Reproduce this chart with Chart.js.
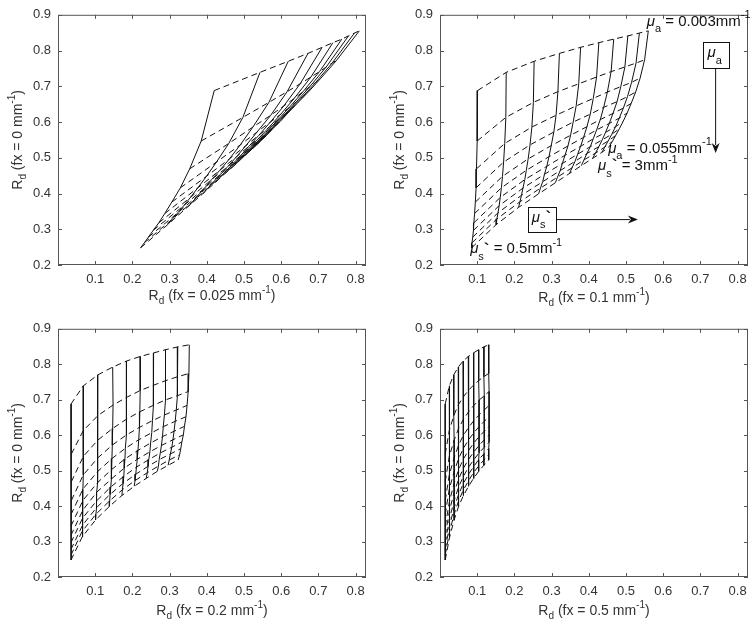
<!DOCTYPE html>
<html>
<head>
<meta charset="utf-8">
<script src="https://cdn.jsdelivr.net/npm/chart.js@4.4.1/dist/chart.umd.min.js"></script>
<style>
  html, body { margin: 0; padding: 0; background: #fff; }
  #wrap { position: relative; width: 755px; height: 629px; overflow: hidden; }
  canvas { position: absolute; }
</style>
</head>
<body>
<div id="wrap">
  <canvas id="c1" width="377" height="314" style="left:0px;top:0px"></canvas>
  <canvas id="c2" width="373" height="314" style="left:382px;top:0px"></canvas>
  <canvas id="c3" width="377" height="315" style="left:0px;top:314px"></canvas>
  <canvas id="c4" width="373" height="315" style="left:382px;top:314px"></canvas>
</div>
<script>
// absorption (dashed lines) and reduced scattering (solid lines), mm^-1
const muA = [0.003, 0.0082, 0.0134, 0.0186, 0.0238, 0.029, 0.0342, 0.0394, 0.0446, 0.0498, 0.055];
const muS = [0.5, 0.78, 1.06, 1.33, 1.61, 1.89, 2.17, 2.44, 2.72, 3.0];

// Rd at fx = 0 (y of every panel), rows = muA, columns = muS
const rdFx0 = [
  [0.688, 0.739, 0.770, 0.792, 0.809, 0.822, 0.832, 0.841, 0.849, 0.855],
  [0.547, 0.613, 0.655, 0.685, 0.707, 0.726, 0.741, 0.754, 0.765, 0.774],
  [0.469, 0.540, 0.586, 0.619, 0.645, 0.666, 0.684, 0.699, 0.711, 0.723],
  [0.416, 0.488, 0.536, 0.572, 0.600, 0.622, 0.641, 0.657, 0.671, 0.684],
  [0.376, 0.448, 0.497, 0.534, 0.563, 0.587, 0.607, 0.624, 0.639, 0.652],
  [0.344, 0.416, 0.465, 0.503, 0.533, 0.557, 0.578, 0.596, 0.611, 0.625],
  [0.318, 0.389, 0.439, 0.476, 0.507, 0.532, 0.553, 0.571, 0.587, 0.601],
  [0.297, 0.366, 0.415, 0.454, 0.484, 0.510, 0.531, 0.550, 0.566, 0.581],
  [0.278, 0.346, 0.395, 0.433, 0.464, 0.490, 0.512, 0.531, 0.547, 0.562],
  [0.262, 0.329, 0.377, 0.415, 0.446, 0.472, 0.494, 0.513, 0.530, 0.545],
  [0.248, 0.313, 0.361, 0.399, 0.430, 0.456, 0.478, 0.498, 0.515, 0.530]
];

// Rd at fx = 0.025 mm^-1
const rdFx0025 = [
  [0.420, 0.543, 0.619, 0.672, 0.710, 0.739, 0.763, 0.781, 0.797, 0.810],
  [0.385, 0.497, 0.567, 0.616, 0.651, 0.680, 0.703, 0.721, 0.737, 0.750],
  [0.354, 0.459, 0.524, 0.572, 0.607, 0.635, 0.658, 0.677, 0.693, 0.707],
  [0.329, 0.426, 0.490, 0.535, 0.571, 0.599, 0.622, 0.641, 0.658, 0.673],
  [0.306, 0.399, 0.461, 0.505, 0.540, 0.569, 0.592, 0.612, 0.628, 0.643],
  [0.287, 0.376, 0.435, 0.480, 0.514, 0.542, 0.566, 0.586, 0.603, 0.618],
  [0.271, 0.356, 0.413, 0.457, 0.492, 0.519, 0.543, 0.564, 0.581, 0.597],
  [0.256, 0.338, 0.394, 0.437, 0.471, 0.499, 0.523, 0.543, 0.562, 0.577],
  [0.243, 0.322, 0.377, 0.419, 0.453, 0.481, 0.505, 0.525, 0.543, 0.560],
  [0.232, 0.308, 0.362, 0.403, 0.436, 0.465, 0.488, 0.509, 0.527, 0.543],
  [0.222, 0.295, 0.347, 0.389, 0.422, 0.449, 0.474, 0.494, 0.512, 0.528]
];

// Rd at fx = 0.1 mm^-1
const rdFx01 = [
  [0.101, 0.178, 0.253, 0.321, 0.378, 0.427, 0.467, 0.505, 0.536, 0.560],
  [0.100, 0.177, 0.251, 0.317, 0.373, 0.421, 0.460, 0.497, 0.527, 0.550],
  [0.098, 0.174, 0.247, 0.312, 0.366, 0.412, 0.450, 0.486, 0.515, 0.538],
  [0.097, 0.171, 0.242, 0.306, 0.358, 0.404, 0.440, 0.476, 0.504, 0.526],
  [0.095, 0.168, 0.237, 0.299, 0.351, 0.395, 0.431, 0.465, 0.493, 0.514],
  [0.093, 0.165, 0.232, 0.293, 0.344, 0.386, 0.421, 0.455, 0.482, 0.503],
  [0.091, 0.162, 0.228, 0.287, 0.336, 0.378, 0.412, 0.445, 0.472, 0.492],
  [0.090, 0.159, 0.223, 0.281, 0.329, 0.370, 0.404, 0.436, 0.462, 0.482],
  [0.088, 0.156, 0.219, 0.276, 0.323, 0.363, 0.395, 0.427, 0.452, 0.472],
  [0.086, 0.153, 0.215, 0.270, 0.316, 0.355, 0.387, 0.418, 0.443, 0.463],
  [0.085, 0.151, 0.211, 0.265, 0.310, 0.348, 0.380, 0.410, 0.435, 0.454]
];

// Rd at fx = 0.2 mm^-1
const rdFx02 = [
  [0.035, 0.068, 0.107, 0.147, 0.184, 0.221, 0.257, 0.289, 0.322, 0.353],
  [0.036, 0.068, 0.107, 0.148, 0.185, 0.221, 0.257, 0.290, 0.322, 0.352],
  [0.036, 0.068, 0.107, 0.147, 0.184, 0.220, 0.256, 0.288, 0.320, 0.350],
  [0.036, 0.068, 0.107, 0.146, 0.183, 0.219, 0.254, 0.286, 0.318, 0.347],
  [0.035, 0.067, 0.106, 0.145, 0.181, 0.217, 0.252, 0.283, 0.315, 0.344],
  [0.035, 0.067, 0.105, 0.144, 0.180, 0.215, 0.249, 0.281, 0.312, 0.340],
  [0.035, 0.067, 0.104, 0.143, 0.178, 0.213, 0.247, 0.278, 0.309, 0.337],
  [0.035, 0.066, 0.104, 0.142, 0.177, 0.211, 0.244, 0.275, 0.306, 0.333],
  [0.035, 0.066, 0.103, 0.140, 0.175, 0.209, 0.242, 0.272, 0.302, 0.330],
  [0.035, 0.065, 0.102, 0.139, 0.173, 0.207, 0.240, 0.270, 0.299, 0.327],
  [0.035, 0.065, 0.101, 0.138, 0.172, 0.205, 0.237, 0.267, 0.296, 0.323]
];

// Rd at fx = 0.5 mm^-1
const rdFx05 = [
  [0.014, 0.025, 0.037, 0.049, 0.062, 0.076, 0.090, 0.104, 0.118, 0.131],
  [0.014, 0.025, 0.037, 0.049, 0.062, 0.076, 0.090, 0.104, 0.118, 0.131],
  [0.014, 0.025, 0.038, 0.050, 0.063, 0.077, 0.091, 0.105, 0.119, 0.132],
  [0.014, 0.025, 0.038, 0.050, 0.063, 0.077, 0.091, 0.105, 0.119, 0.132],
  [0.014, 0.025, 0.038, 0.050, 0.063, 0.077, 0.091, 0.105, 0.119, 0.132],
  [0.014, 0.026, 0.038, 0.050, 0.063, 0.077, 0.091, 0.105, 0.119, 0.132],
  [0.014, 0.026, 0.038, 0.050, 0.063, 0.077, 0.091, 0.105, 0.119, 0.132],
  [0.014, 0.026, 0.038, 0.050, 0.063, 0.077, 0.091, 0.105, 0.119, 0.132],
  [0.014, 0.026, 0.038, 0.050, 0.063, 0.077, 0.091, 0.104, 0.118, 0.131],
  [0.014, 0.026, 0.038, 0.050, 0.063, 0.077, 0.090, 0.104, 0.118, 0.131],
  [0.014, 0.026, 0.038, 0.050, 0.063, 0.077, 0.090, 0.104, 0.118, 0.131]
];

const xTicks = [0.1, 0.2, 0.3, 0.4, 0.5, 0.6, 0.7, 0.8];
const yTicks = [0.2, 0.3, 0.4, 0.5, 0.6, 0.7, 0.8, 0.9];

const FONT = "'Liberation Sans', Arial, Helvetica, sans-serif";
const textColor = '#333';
const axisColor = '#555';
const lineColor = '#111';

// draws text runs with italic / subscript / superscript / accent pieces
function drawRich(ctx, parts, x, y, size, align, subDrop) {
  const small = m => m === 'sub' || m === 'sup';
  const fontFor = m => (m === 'it' ? 'italic ' : m === 'acc' ? 'bold ' : '') +
    Math.round(small(m) ? size * 0.72 : m === 'acc' ? size * 1.1 : size) + 'px ' + FONT;
  let w = 0;
  parts.forEach(([t, m]) => { ctx.font = fontFor(m); w += ctx.measureText(t).width; });
  let cx = align === 'center' ? x - w / 2 : x;
  ctx.textAlign = 'left';
  ctx.textBaseline = 'middle';
  parts.forEach(([t, m]) => {
    ctx.font = fontFor(m);
    const dy = m === 'sub' ? size * (subDrop || 0.38) : m === 'sup' ? -size * 0.42 : m === 'acc' ? size * 0.05 : 0;
    ctx.fillText(t, cx, y + dy);
    cx += ctx.measureText(t).width;
  });
  return w;
}

function arrow(ctx, x0, y0, x1, y1) {
  const ang = Math.atan2(y1 - y0, x1 - x0);
  const c = Math.cos(ang), s = Math.sin(ang);
  ctx.beginPath();
  ctx.moveTo(x0, y0);
  ctx.lineTo(x1 - 8 * c, y1 - 8 * s);
  ctx.stroke();
  ctx.beginPath();
  ctx.moveTo(x1, y1);
  ctx.lineTo(x1 - 10 * c + 4 * s, y1 - 10 * s - 4 * c);
  ctx.lineTo(x1 - 7 * c, y1 - 7 * s);
  ctx.lineTo(x1 - 10 * c - 4 * s, y1 - 10 * s + 4 * c);
  ctx.closePath();
  ctx.fill();
}

// box, inward ticks, axis titles and notes
const framePlugin = {
  id: 'frame',
  afterDraw(chart, args, opts) {
    const { ctx, chartArea: a } = chart;
    const x = chart.scales.x, y = chart.scales.y;
    ctx.save();
    ctx.strokeStyle = axisColor;
    ctx.lineWidth = 1;
    ctx.strokeRect(a.left + 0.5, a.top + 0.5, a.right - a.left - 1, a.bottom - a.top - 1);
    ctx.beginPath();
    xTicks.forEach(v => {
      const px = Math.round(x.getPixelForValue(v)) + 0.5;
      ctx.moveTo(px, a.bottom); ctx.lineTo(px, a.bottom - 4);
      ctx.moveTo(px, a.top); ctx.lineTo(px, a.top + 4);
    });
    yTicks.forEach(v => {
      const py = Math.round(y.getPixelForValue(v)) + 0.5;
      ctx.moveTo(a.left, py); ctx.lineTo(a.left + 4, py);
      ctx.moveTo(a.right, py); ctx.lineTo(a.right - 4, py);
    });
    ctx.stroke();

    ctx.fillStyle = textColor;
    drawRich(ctx, opts.xTitle, (a.left + a.right) / 2, a.bottom + opts.xTitleGap, 14, 'center');
    ctx.save();
    ctx.translate(a.left - 40, (a.top + a.bottom) / 2);
    ctx.rotate(-Math.PI / 2);
    drawRich(ctx, opts.yTitle, 0, 0, 14, 'center');
    ctx.restore();

    ctx.fillStyle = '#111';
    ctx.strokeStyle = '#111';
    (opts.notes || []).forEach(n => {
      const px = x.getPixelForValue(n.x), py = y.getPixelForValue(n.y);
      if (n.type === 'text') {
        drawRich(ctx, n.parts, px, py, 15, 'left', 0.5);
      } else {
        ctx.fillStyle = '#fff';
        ctx.fillRect(px - n.w / 2, py - n.h / 2, n.w, n.h);
        ctx.strokeRect(Math.round(px - n.w / 2) + 0.5, Math.round(py - n.h / 2) + 0.5, n.w, n.h);
        ctx.fillStyle = '#111';
        drawRich(ctx, n.parts, px - 1, py - 2, 15, 'center', 0.5);
        const tx = x.getPixelForValue(n.to.x), ty = y.getPixelForValue(n.to.y);
        const sx = n.to.x === n.x ? px : px + n.w / 2;
        const sy = n.to.x === n.x ? py + n.h / 2 : py;
        arrow(ctx, sx, sy, tx, ty);
      }
    });
    ctx.restore();
  }
};

function buildDatasets(rdX) {
  const sets = [];
  muS.forEach((s, j) => {
    sets.push({
      label: 'mus = ' + s,
      data: muA.map((a, i) => ({ x: rdX[i][j], y: rdFx0[i][j] })),
      borderColor: lineColor,
      borderWidth: 1,
      showLine: true,
      pointRadius: 0,
      tension: 0
    });
  });
  muA.forEach((a, i) => {
    sets.push({
      label: 'mua = ' + a,
      data: muS.map((s, j) => ({ x: rdX[i][j], y: rdFx0[i][j] })),
      borderColor: lineColor,
      borderWidth: 1,
      borderDash: [6, 4],
      showLine: true,
      pointRadius: 0,
      tension: 0
    });
  });
  return sets;
}

const mu = (sub, prime) => prime ? [['μ', 'it'], [sub, 'sub'], ['`', 'acc']] : [['μ', 'it'], [sub, 'sub']];
const yTitle = [['R', ''], ['d', 'sub'], [' (fx = 0 mm', ''], ['-1', 'sup'], [')', '']];
const xTitle = f => [['R', ''], ['d', 'sub'], [' (fx = ' + f + ' mm', ''], ['-1', 'sup'], [')', '']];

const notesTR = [
  { type: 'text', x: 0.556, y: 0.881, parts: mu('a').concat([[' = 0.003mm', ''], ['-1', 'sup']]) },
  { type: 'text', x: 0.452, y: 0.526, parts: mu('a').concat([[' = 0.055mm', ''], ['-1', 'sup']]) },
  { type: 'text', x: 0.425, y: 0.477, parts: mu('s', true).concat([[' = 3mm', ''], ['-1', 'sup']]) },
  { type: 'text', x: 0.081, y: 0.244, parts: mu('s', true).concat([[' = 0.5mm', ''], ['-1', 'sup']]) },
  { type: 'box', x: 0.741, y: 0.787, w: 26, h: 26, parts: mu('a'), to: { x: 0.741, y: 0.513 } },
  { type: 'box', x: 0.2755, y: 0.327, w: 28, h: 25, parts: mu('s', true), to: { x: 0.532, y: 0.327 } }
];

const panels = [
  { id: 'c1', rd: rdFx0025, fx: '0.025', padTop: 12, padRight: 11, xHeight: 49, gap: 31, notes: [] },
  { id: 'c2', rd: rdFx01, fx: '0.1', padTop: 12, padRight: 7, xHeight: 49, gap: 33, notes: notesTR },
  { id: 'c3', rd: rdFx02, fx: '0.2', padTop: 11, padRight: 11, xHeight: 52, gap: 34, notes: [] },
  { id: 'c4', rd: rdFx05, fx: '0.5', padTop: 11, padRight: 7, xHeight: 52, gap: 34, notes: [] }
];

panels.forEach(p => {
  new Chart(document.getElementById(p.id), {
    type: 'scatter',
    data: { datasets: buildDatasets(p.rd) },
    options: {
      responsive: false,
      animation: false,
      devicePixelRatio: 1,
      layout: { padding: { top: p.padTop, right: p.padRight, left: 0, bottom: 0 } },
      plugins: {
        legend: { display: false },
        tooltip: { enabled: false },
        frame: { xTitle: xTitle(p.fx), yTitle: yTitle, xTitleGap: p.gap, notes: p.notes }
      },
      scales: {
        x: {
          type: 'linear',
          min: 0,
          max: 0.828,
          afterBuildTicks: s => { s.ticks = xTicks.map(v => ({ value: v })); },
          afterFit: s => { s.height = p.xHeight; },
          grid: { display: false, drawTicks: false },
          border: { display: false },
          ticks: {
            color: textColor,
            font: { family: FONT, size: 13 },
            padding: 7,
            maxRotation: 0,
            autoSkip: false,
            callback: v => v.toFixed(1)
          }
        },
        y: {
          type: 'linear',
          min: 0.2,
          max: 0.9,
          afterBuildTicks: s => { s.ticks = yTicks.map(v => ({ value: v })); },
          afterFit: s => { s.width = 58; },
          grid: { display: false, drawTicks: false },
          border: { display: false },
          ticks: {
            color: textColor,
            font: { family: FONT, size: 13 },
            padding: 7,
            autoSkip: false,
            callback: v => v.toFixed(1)
          }
        }
      }
    },
    plugins: [framePlugin]
  });
});
</script>
</body>
</html>
